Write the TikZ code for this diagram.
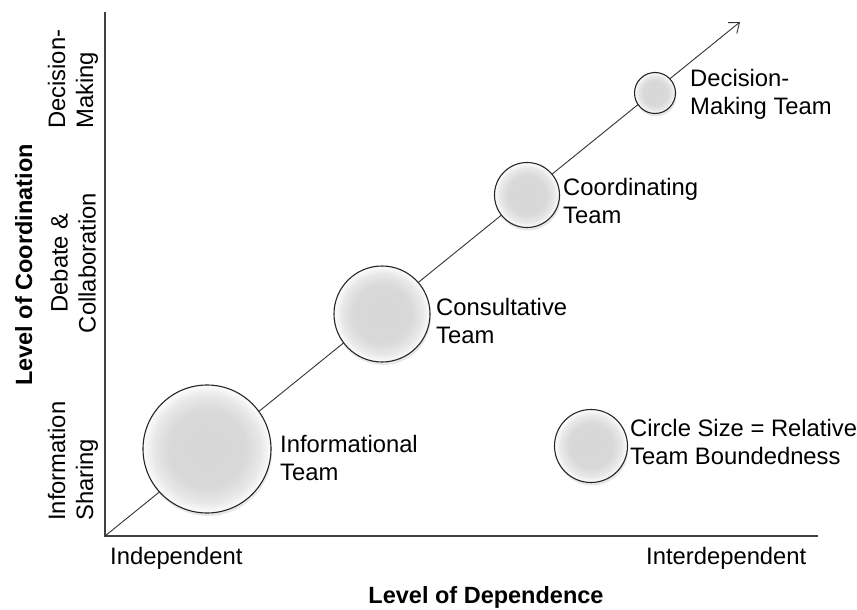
\documentclass[tikz,border=0pt]{standalone}
\usepackage{fontspec}
\setmainfont{Liberation Sans}
\usetikzlibrary{positioning,arrows.meta,shadows}

% soft grey bubble with a light rim
\pgfdeclareradialshading{bubble}{\pgfpoint{0bp}{0bp}}{%
  color(0bp)=(black!16); color(15bp)=(black!15); color(21bp)=(black!9);
  color(24.5bp)=(black!2); color(25bp)=(black!2); color(50bp)=(white)}

\begin{document}
\begin{tikzpicture}[x=1pt,y=-1pt,
		every node/.style={font=\fontsize{23.8}{28}\selectfont, inner sep=0pt},
		team/.style={circle, draw=black!85, line width=1.1pt, shade, shading=bubble,
			drop shadow={shadow xshift=1pt, shadow yshift=-3pt, opacity=0.18}},
		lbl/.style={anchor=west, align=left},
		level/.style={rotate=90},
		axis/.style={black!75, line width=1.4pt}
	]

	\useasboundingbox (0,0) rectangle (857,610);

	% Axes
	\coordinate (O) at (105,536);
	\coordinate (ytop) at (105,12);
	\coordinate (xend) at (818,536);
	\coordinate (tip) at (740,22);
	\draw[axis] (ytop) -- (O) -- (xend);

	% Diagonal trend
	\draw[black!80, line width=0.9pt, -{Straight Barb[length=9pt,width=14pt]}] (O) -- (tip);

	% Teams
	\node[team, minimum size=128pt] (info) at (207,449) {};
	\node[team, minimum size=96pt] (consult) at (382,314) {};
	\node[team, minimum size=65pt] (coord) at (527,195) {};
	\node[team, minimum size=41pt] (decide) at (655,93) {};
	\node[team, minimum size=73pt] (legend) at (591,446) {};

	\node[lbl] (infotxt) at (280,458) {Informational\\Team};
	\node[lbl] (consulttxt) at (436,321) {Consultative\\Team};
	\node[lbl] (coordtxt) at (563,201) {Coordinating\\Team};
	\node[lbl] (decidetxt) at (690,94) {Decision-\\Making Team};
	\node[lbl] (legendtxt) at (630,442) {Circle Size = Relative\\Team Boundedness};

	% x axis labels
	\node[anchor=base west] (indep) at (110,564) {Independent};
	\node[anchor=base west] (interdep) at (646,564) {Interdependent};
	\node[anchor=base, font=\fontsize{23.5}{28}\selectfont\bfseries] (xtitle) at (486,603) {Level of Dependence};

	% y axis labels
	\node[level, anchor=base, font=\fontsize{23.5}{28}\selectfont\bfseries] (ytitle) at (32,265) {Level of Coordination};
	\node[level, anchor=west, align=left] (share) at (73,521) {Information\\Sharing};
	\node[level, align=center] (debate) at (73,263) {Debate \&\\Collaboration};
	\node[level, anchor=west, align=left] (making) at (73,129) {Decision-\\Making};

\end{tikzpicture}
\end{document}
